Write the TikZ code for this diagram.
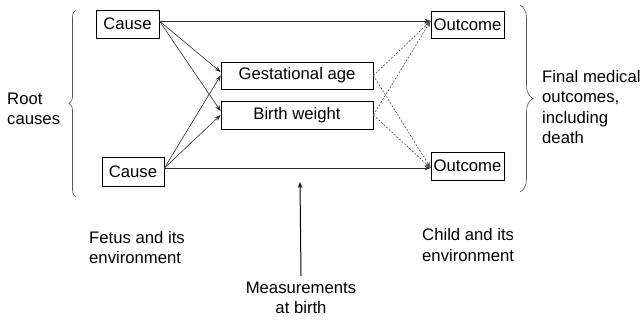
\documentclass[tikz,border=0pt]{standalone}
\usepackage{fontspec}
\setmainfont{Liberation Sans}
\usetikzlibrary{arrows.meta,decorations.pathreplacing}
\definecolor{Ink}{HTML}{2E2E2E}
\definecolor{Soft}{HTML}{555555}
\tikzset{
  box/.style={draw=black,line width=0.8pt,fill=white,inner sep=0pt,minimum height=28pt},
  link/.style={draw=Ink,line width=0.6pt,-{Stealth[length=6pt,width=4.5pt]}},
  dlink/.style={link,draw=Soft,dash pattern=on 2pt off 1.5pt},
  note/.style={align=left,inner sep=0pt,anchor=west},
  curly/.style={draw=Soft,line width=0.6pt,decorate},
}

\begin{document}
\begin{tikzpicture}[x=1pt,y=-1pt,every node/.style={font=\fontsize{16.7}{20.3}\selectfont}]
      \useasboundingbox (0,0) rectangle (644,321);
      % boxes
      \node[box,minimum width=63pt] (causeA) at (127.5,24) {Cause};
      \node[box,minimum width=62pt,minimum height=29pt] (causeB) at (133,171.5) {Cause};
      \node[box,minimum width=152pt,minimum height=27pt] (gest) at (297,75.5) {Gestational age};
      \node[box,minimum width=152pt] (bw) at (297,115) {Birth weight};
      \node[box,minimum width=73pt,minimum height=27pt] (outA) at (467.5,24.5) {Outcome};
      \node[box,minimum width=73pt] (outB) at (467.5,166) {Outcome};
      % labels
      \node[note] (root) at (7,109) {Root\\causes};
      \node[note] (final) at (542,107) {Final medical\\outcomes,\\including\\death};
      \node[note] (fetus) at (89,247.5) {Fetus and its\\environment};
      \node[note] (child) at (422,245) {Child and its\\environment};
      \node[align=center,inner sep=0pt] (meas) at (301,298) {Measurements\\at birth};
      \coordinate (birth) at (300,182);
      % causes to measurements and outcomes
      \draw[link,line width=0.5pt] ([yshift=3pt]causeA.east) -- ([yshift=3.5pt]outA.west);
      \draw[link] ([yshift=3pt]causeA.east) -- ([yshift=3.5pt]gest.west);
      \draw[link] ([yshift=3pt]causeA.east) -- ([yshift=4pt]bw.west);
      \draw[link] ([yshift=3.5pt]causeB.east) -- (gest.west);
      \draw[link] ([yshift=3.5pt]causeB.east) -- (bw.west);
      \draw[link,line width=1pt] ([yshift=3.5pt]causeB.east) -- ([yshift=-2pt]outB.west);
      % measurements to outcomes
      \draw[dlink] (gest.east) -- ([yshift=3.5pt]outA.west);
      \draw[dlink] (gest.east) -- ([yshift=-2pt]outB.west);
      \draw[dlink] (bw.east) -- ([yshift=3.5pt]outA.west);
      \draw[dlink] (bw.east) -- ([yshift=-2pt]outB.west);
      \draw[link,draw=black,line width=1pt] ([yshift=6pt]meas.north) -- (birth);
      % braces
      \draw[curly,decoration={brace,amplitude=7pt}] (76,197) -- (76,10);
      \draw[curly,decoration={brace,amplitude=13pt}] (520,5) -- (520,192);
    \end{tikzpicture}
\end{document}
